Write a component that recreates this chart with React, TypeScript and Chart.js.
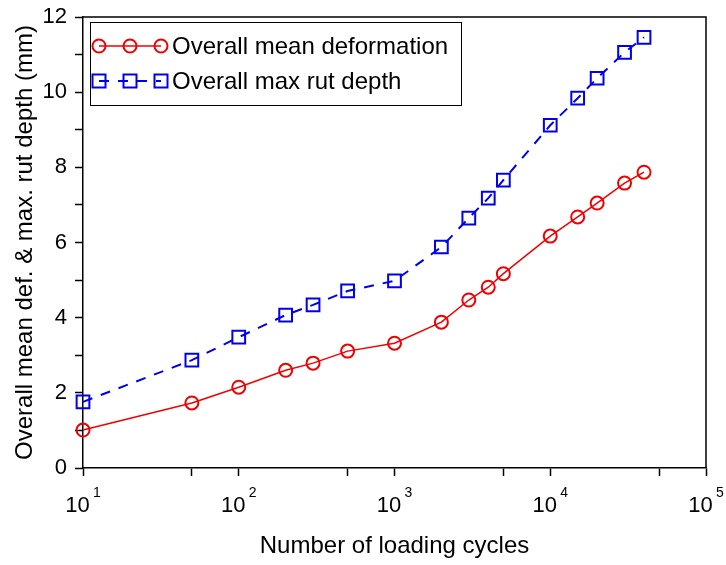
import React, { useEffect, useRef } from "react";
import { Chart, registerables } from "chart.js";

Chart.register(...registerables);

const cycles = [10, 50, 100, 200, 300, 500, 1000, 2000, 3000, 4000, 5000, 10000, 15000, 20000, 30000, 40000];
const meanDeformation = [1.01, 1.73, 2.15, 2.6, 2.79, 3.11, 3.32, 3.88, 4.47, 4.81, 5.17, 6.17, 6.68, 7.05, 7.58, 7.87];
const maxRutDepth = [1.76, 2.87, 3.48, 4.07, 4.34, 4.71, 4.98, 5.88, 6.65, 7.18, 7.66, 9.12, 9.84, 10.37, 11.06, 11.46];
const xTickValues = [10, 50, 100, 500, 1000, 5000, 10000, 50000, 100000];
const seriesLabels = ["Overall mean deformation", "Overall max rut depth"];
const xTitle = "Number of loading cycles";
const yTitle = "Overall mean def. & max. rut depth (mm)";

const RED = "#f00000";
const BLUE = "#0000ee";
const FONT = "'Liberation Sans', Arial, sans-serif";

const isPow10 = (v: number) => Math.abs(Math.log10(v) - Math.round(Math.log10(v))) < 1e-9;

const decorPlugin = {
  id: "decor",
  afterDraw(chart: any) {
    const { ctx, chartArea } = chart;
    const xs = chart.scales.x;
    ctx.save();
    // frame top & right
    ctx.strokeStyle = "#000";
    ctx.lineWidth = 1.5;
    ctx.beginPath();
    ctx.moveTo(chartArea.left, chartArea.top);
    ctx.lineTo(chartArea.right, chartArea.top);
    ctx.lineTo(chartArea.right, chartArea.bottom);
    ctx.stroke();

    // exponents for 10^n labels
    ctx.fillStyle = "#000";
    ctx.font = `14px ${FONT}`;
    ctx.textAlign = "left";
    ctx.textBaseline = "alphabetic";
    xTickValues.forEach((v) => {
      if (!isPow10(v)) return;
      const px = xs.getPixelForValue(v);
      ctx.fillText(String(Math.round(Math.log10(v))), px + 10, 497);
    });

    // legend
    const bx = chartArea.left + 7;
    const by = chartArea.top + 5;
    const bw = 371;
    const bh = 83;
    ctx.lineWidth = 1;
    ctx.strokeStyle = "#000";
    ctx.strokeRect(bx + 0.5, by + 0.5, bw, bh);
    const rows = [
      { y: by + 24, color: RED, dash: [] as number[], shape: "circle", lw: 1.5 },
      { y: by + 59, color: BLUE, dash: [10, 9], shape: "rect", lw: 2 },
    ];
    const mx = [bx + 9, bx + 40, bx + 71];
    rows.forEach((r, i) => {
      ctx.strokeStyle = r.color;
      ctx.lineWidth = r.lw;
      ctx.setLineDash(r.dash);
      ctx.beginPath();
      ctx.moveTo(mx[0], r.y);
      ctx.lineTo(mx[2], r.y);
      ctx.stroke();
      ctx.setLineDash([]);
      ctx.lineWidth = 2;
      mx.forEach((x) => {
        ctx.beginPath();
        if (r.shape === "circle") ctx.arc(x, r.y, 6.5, 0, Math.PI * 2);
        else ctx.rect(x - 6.5, r.y - 6.5, 13, 13);
        ctx.stroke();
      });
      ctx.fillStyle = "#000";
      ctx.font = `24px ${FONT}`;
      ctx.textAlign = "left";
      ctx.textBaseline = "middle";
      ctx.fillText(seriesLabels[i], bx + 82, r.y + 1);
    });
    ctx.restore();
  },
};

export default function App() {
  const ref = useRef<HTMLCanvasElement | null>(null);

  useEffect(() => {
    document.body.style.margin = "0";
    const canvas = ref.current;
    if (!canvas) return;
    const chart = new Chart(canvas, {
      type: "line",
      data: {
        datasets: [
          {
            label: seriesLabels[0],
            data: cycles.map((c, i) => ({ x: c, y: meanDeformation[i] })),
            borderColor: RED,
            borderWidth: 1.5,
            pointStyle: "circle",
            pointRadius: 6.5,
            pointBorderWidth: 2,
            pointBorderColor: RED,
            pointBackgroundColor: "rgba(0,0,0,0)",
            tension: 0,
            clip: false as any,
          },
          {
            label: seriesLabels[1],
            data: cycles.map((c, i) => ({ x: c, y: maxRutDepth[i] })),
            borderColor: BLUE,
            borderWidth: 2,
            borderDash: [10, 9],
            pointStyle: "rect",
            pointRadius: 9,
            pointBorderWidth: 2,
            pointBorderColor: BLUE,
            pointBackgroundColor: "rgba(0,0,0,0)",
            tension: 0,
            clip: false as any,
          },
        ],
      },
      options: {
        animation: false,
        responsive: false,
        devicePixelRatio: 1,
        layout: { padding: { left: 0, top: 17, right: 20, bottom: 0 } },
        plugins: { legend: { display: false }, tooltip: { enabled: false } },
        scales: {
          x: {
            type: "logarithmic",
            min: 10,
            max: 100000,
            afterBuildTicks: (s: any) => {
              s.ticks = xTickValues.map((v) => ({ value: v }));
            },
            afterFit: (s: any) => {
              s.height = 97;
              s.paddingLeft = 0;
              s.paddingRight = 0;
            },
            ticks: {
              autoSkip: false,
              maxRotation: 0,
              minRotation: 0,
              padding: 17,
              color: "#000",
              font: { family: FONT, size: 22 },
              callback: (v: any) => (isPow10(Number(v)) ? "10\u2002" : ""),
            },
            grid: { drawOnChartArea: false, tickLength: 8, tickColor: "#000", tickWidth: 1.5 },
            border: { color: "#000", width: 1.5 },
            title: {
              display: true,
              text: xTitle,
              color: "#000",
              font: { family: FONT, size: 24 },
              padding: { top: 0, bottom: 4 },
            },
          },
          y: {
            min: 0,
            max: 12,
            afterFit: (s: any) => {
              s.width = 83;
              s.paddingTop = 0;
              s.paddingBottom = 0;
            },
            ticks: {
              stepSize: 1,
              padding: 8,
              color: "#000",
              font: { family: FONT, size: 22 },
              callback: (v: any) => (Number(v) % 2 === 0 ? String(v) : ""),
            },
            grid: { drawOnChartArea: false, tickLength: 8, tickColor: "#000", tickWidth: 1.5 },
            border: { color: "#000", width: 1.5 },
            title: {
              display: true,
              text: yTitle,
              color: "#000",
              font: { family: FONT, size: 24 },
              padding: { top: 11, bottom: 0 },
            },
          },
        },
      },
      plugins: [decorPlugin],
    } as any);
    return () => chart.destroy();
  }, []);

  return <canvas ref={ref} width={726} height={565} style={{ display: "block" }} />;
}
